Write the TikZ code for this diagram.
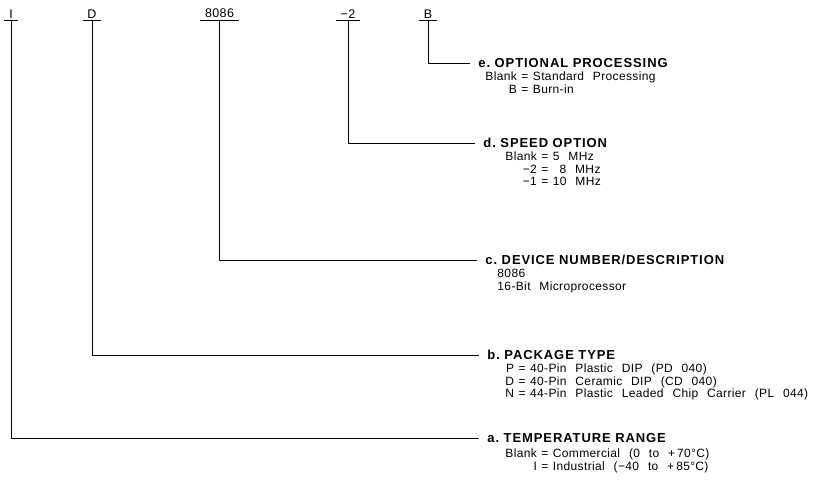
\documentclass[tikz,border=0pt]{standalone}
\usepackage{fontspec}
\setmainfont{Liberation Sans}
\newfontfamily\subfam[LetterSpace=3, WordSpace=2.4]{Liberation Sans}
\newfontfamily\headfam[LetterSpace=7]{Liberation Sans Bold}
\usetikzlibrary{positioning}
\newcommand\subfont{\fontsize{12}{12.5}\subfam}
\newcommand\headfont{\fontsize{13}{13}\headfam}
\newcommand\eq{\hspace{4.5pt}=\hspace{4.5pt}}
\tikzset{
    field/.style = {anchor = south, inner xsep = 4.5pt, inner ysep = 1.5pt, font = \fontsize{12.5}{12.5}\subfam},
    head/.style = {anchor = west, inner xsep = 8pt, inner ysep = 0pt, font = \headfont},
    sub/.style = {inner sep = 0pt, align = left, font = \subfont}
}
\begin{document}
\begin{tikzpicture}[x = 1pt, y = -1pt, line width = 0.9pt]
\useasboundingbox (0,0) rectangle (829,488);
% part number fields
\node[field] (temp) at (11,20) {I};
\node[field] (pkg) at (92,20) {D};
\node[field, inner xsep = 5pt] (dev) at (219.5,20) {8086};
\node[field] (speed) at (348,20) {−2};
\node[field] (proc) at (428,20) {B};
\foreach \f in {temp, pkg, dev, speed, proc}
    \draw (\f.south west) -- (\f.south east);
% descriptions
\node[head] (procH) at (470,63) {e.\ OPTIONAL PROCESSING};
\node[sub, below right = 4pt and 15pt of procH.base west] (procS) {\begin{tabular}{@{}r@{\eq}l@{}}
Blank & Standard Processing\\
B & Burn-in
\end{tabular}};
\node[head] (speedH) at (475,143) {d.\ SPEED OPTION};
\node[sub, below right = 4pt and 30pt of speedH.base west] (speedS) {\begin{tabular}{@{}r@{\eq}l@{}}
Blank & 5 MHz\\
−2 & \phantom{1}8 MHz\\
−1 & 10 MHz
\end{tabular}};
\node[head] (devH) at (477,260) {c.\ DEVICE NUMBER/DESCRIPTION};
\node[sub, below right = 4pt and 20pt of devH.base west] (devS) {\begin{tabular}{@{}l@{}}
8086\\
16-Bit Microprocessor
\end{tabular}};
\node[head] (pkgH) at (479,355) {b.\ PACKAGE TYPE};
\node[sub, below right = 4pt and 26pt of pkgH.base west] (pkgS) {\begin{tabular}{@{}r@{\eq}l@{}}
P & 40-Pin Plastic DIP (PD 040)\\
D & 40-Pin Ceramic DIP (CD 040)\\
N & 44-Pin Plastic Leaded Chip Carrier (PL 044)
\end{tabular}};
\node[head] (tempH) at (479,438) {a.\ TEMPERATURE RANGE};
\node[sub, below right = 6pt and 26pt of tempH.base west] (tempS) {\begin{tabular}{@{}r@{\eq}l@{}}
Blank & Commercial (0 to +\,70°C)\\
I & Industrial (−40 to +\,85°C)
\end{tabular}};
% connectors
\draw (proc.south) |- (procH.west);
\draw (speed.south) |- (speedH.west);
\draw (dev.south) |- (devH.west);
\draw (pkg.south) |- (pkgH.west);
\draw (temp.south) |- (tempH.west);
\end{tikzpicture}
\end{document}
